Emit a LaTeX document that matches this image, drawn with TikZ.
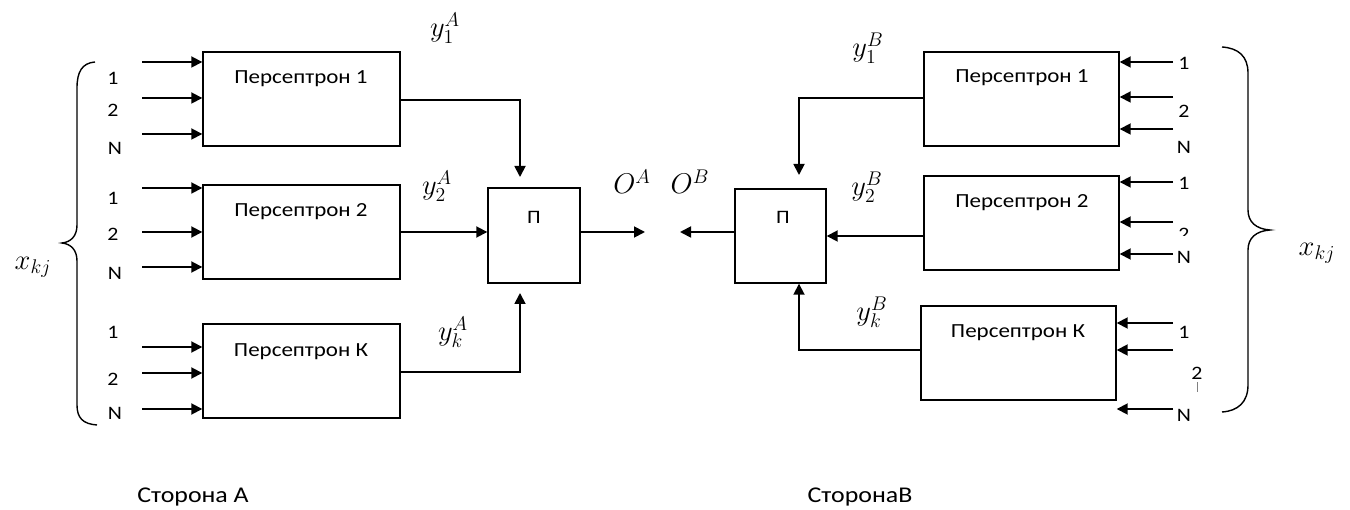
\documentclass[tikz,border=0pt]{standalone}
\usepackage{graphicx}
\usepackage{fontspec}
\setmainfont{Carlito}[FakeStretch=1.15]
\usetikzlibrary{arrows.meta}
\newcommand{\mymath}[1]{\scalebox{1.65}{$#1$}}
\begin{document}
\begin{tikzpicture}[x=1pt,y=-1pt,
  box/.style={draw,line width=1.4pt,inner sep=0pt},
  conn/.style={line width=1.8pt},
  arr/.style={line width=1.8pt,-{Triangle[length=11pt,width=11pt]}},
  lbl/.style={font=\fontsize{20}{24}\selectfont,inner sep=0pt},
  num/.style={font=\fontsize{19}{22}\selectfont,inner sep=0pt},
  mth/.style={font=\fontsize{17.28}{20}\selectfont,inner sep=0pt},
  side/.style={font=\fontsize{22.5}{26}\selectfont,inner sep=0pt},
  brace/.style={line width=1.4pt}]
\useasboundingbox (0,0) rectangle (1350,510);

% ---------- Side A ----------
\node[box,minimum width=197pt,minimum height=94pt] (a1) at (301.5,99) {};
\node[box,minimum width=197pt,minimum height=94pt] (a2) at (301.5,232) {};
\node[box,minimum width=197pt,minimum height=94pt] (ak) at (301.5,371) {};
\node[lbl] (ta1) at (301,79) {Персептрон 1};
\node[lbl] (ta2) at (301,212) {Персептрон 2};
\node[lbl] (tak) at (301,352) {Персептрон К};
\node[box,minimum width=92pt,minimum height=95pt] (pa) at (534,235.5) {};
\node[num] (tpa) at (534,217) {П};

% inputs A
\foreach \y/\n in {62/1,98/2,134/3,188/4,232/5,267/6,347/7,373/8,409/9}{
  \coordinate (ia\n) at (142,\y);
}
\foreach \n in {1,2,3}{\draw[arr] (ia\n) -- (ia\n -| a1.west);}
\foreach \n in {4,5,6}{\draw[arr] (ia\n) -- (ia\n -| a2.west);}
\foreach \n in {7,8,9}{\draw[arr] (ia\n) -- (ia\n -| ak.west);}
\node[num] (la1) at (113,78) {1};
\node[num] (la2) at (113,110) {2};
\node[num] (la3) at (115,148) {N};
\node[num] (la4) at (113,198) {1};
\node[num] (la5) at (113,234) {2};
\node[num] (la6) at (115,273) {N};
\node[num] (la7) at (113,332) {1};
\node[num] (la8) at (113,379) {2};
\node[num] (la9) at (115,413) {N};

% brace A
\draw[brace] (95,62) .. controls (82,63) and (77,72) .. (77,88) -- (77,225)
  .. controls (77,236) and (71,242) .. (62,243)
  .. controls (71,244) and (77,250) .. (77,261) -- (77,405)
  .. controls (77,418) and (83,424) .. (97,425);
\node[mth] (xa) at (33,267) {\mymath{x_{kj}}};

% connections A
\coordinate (ea1) at (520,177);
\coordinate (eak) at (520,293);
\coordinate (oa) at (645,232);
\draw[conn] (a1.east |- 0,100) -| (520,150);
\draw[arr] (520,140) -- (ea1);
\draw[arr] (a2.east |- 0,232) -- (pa.west |- 0,232);
\draw[conn] (ak.east |- 0,372) -| (520,320);
\draw[arr] (520,330) -- (eak);
\draw[arr] (pa.east |- 0,232) -- (oa);

\node[mth] (y1a) at (445,28) {\mymath{y_1^A}};
\node[mth] (y2a) at (437,186) {\mymath{y_2^A}};
\node[mth] (yka) at (453,332) {\mymath{y_k^A}};
\node[mth] (oA) at (632,182) {\mymath{O^A}};

% ---------- Side B ----------
\node[box,minimum width=195pt,minimum height=94pt] (b1) at (1021.5,99) {};
\node[box,minimum width=195pt,minimum height=94pt] (b2) at (1021.5,223) {};
\node[box,minimum width=195pt,minimum height=94pt] (bk) at (1018.5,353) {};
\node[lbl] (tb1) at (1022,78) {Персептрон 1};
\node[lbl] (tb2) at (1022,203) {Персептрон 2};
\node[lbl] (tbk) at (1018,333) {Персептрон К};
\node[box,minimum width=91pt,minimum height=94pt] (pb) at (780.5,236) {};
\node[num] (tpb) at (783,217) {П};

% inputs B
\foreach \y/\n in {62/1,97/2,129/3,182/4,222/5,254/6,323/7,350/8,409/9}{
  \coordinate (ib\n) at (1173,\y);
}
\foreach \n in {1,2,3}{\draw[arr] (ib\n) -- (ib\n -| b1.east);}
\foreach \n in {4,5,6}{\draw[arr] (ib\n) -- (ib\n -| b2.east);}
\foreach \n in {7,8,9}{\draw[arr] (ib\n) -- (ib\n -| bk.east);}
\node[num] (lb1) at (1184,63) {1};
\node[num] (lb2) at (1184,111) {2};
\node[num] (lb3) at (1184,147) {N};
\node[num] (lb4) at (1184,183) {1};
\begin{scope}
  \clip (1170,222) rectangle (1200,236);
  \node[num] (lb5) at (1184,234) {2};
\end{scope}
\node[num] (lb6) at (1184,257) {N};
\node[num] (lb7) at (1184,332) {1};
\node[num] (lb8) at (1197,373) {2};
\draw[line width=0.4pt,gray] (1197,382) -- (1197,392);
\node[num] (lb9) at (1184,415) {N};

% brace B
\draw[brace] (1222,47) .. controls (1238,48) and (1248,56) .. (1248,73) -- (1248,210)
  .. controls (1248,222) and (1256,229) .. (1270,230)
  .. controls (1256,231) and (1248,238) .. (1248,250) -- (1248,385)
  .. controls (1248,402) and (1238,411) .. (1222,412);
\node[mth] (xb) at (1317,253) {\mymath{x_{kj}}};

% connections B
\coordinate (eb1) at (799,175);
\coordinate (ob) at (680,232);
\draw[conn] (b1.west |- 0,98) -| (799,150);
\draw[arr] (799,140) -- (eb1);
\draw[arr] (b2.west |- 0,236) -- (pb.east |- 0,236);
\draw[conn] (bk.west |- 0,350) -| (799,310);
\draw[arr] (799,320) -- (pb.south -| 799,0);
\draw[arr] (pb.west |- 0,232) -- (ob);

\node[mth] (y1b) at (868,48) {\mymath{y_1^B}};
\node[mth] (y2b) at (867,187) {\mymath{y_2^B}};
\node[mth] (ykb) at (872,312) {\mymath{y_k^B}};
\node[mth] (oB) at (690,182) {\mymath{O^B}};

% ---------- bottom captions ----------
\node[side] (sa) at (193,497) {Сторона А};
\node[side] (sb) at (860,497) {СторонаВ};
\end{tikzpicture}
\end{document}
